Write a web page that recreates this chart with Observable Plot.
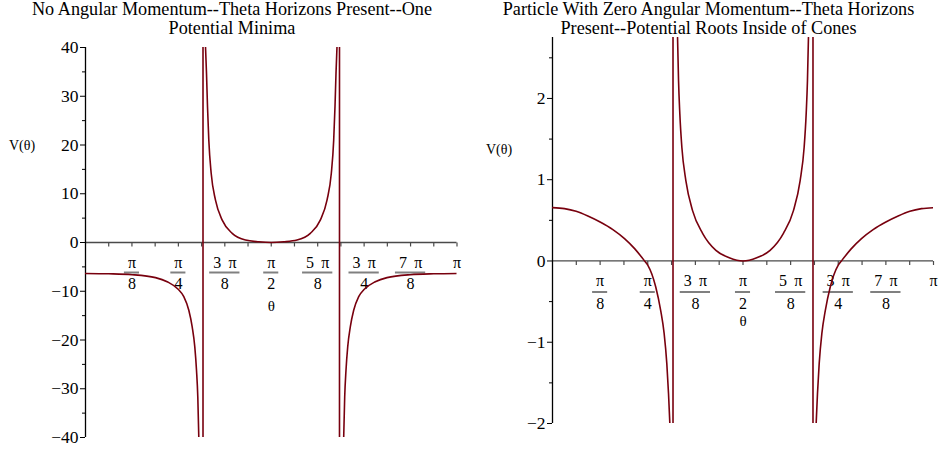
<!DOCTYPE html>
<html>
<head>
<meta charset="utf-8">
<script src="https://cdn.jsdelivr.net/npm/d3@7"></script>
<script src="https://cdn.jsdelivr.net/npm/@observablehq/plot@0.6"></script>
<style>
  body { margin: 0; background: #fff; }
  #wrap { position: relative; width: 940px; height: 450px; font-family: "Liberation Serif", serif; }
  .panel { position: absolute; top: 0; width: 470px; height: 450px; }
  .title { position: absolute; top: 0; text-align: center; font-size: 18.2px; line-height: 18.5px; color: #000; white-space: nowrap; }
  .ylab { position: absolute; font-size: 14px; color: #000; }
  svg { display: block; }
</style>
</head>
<body>
<div id="wrap">
  <div class="panel" id="p1" style="left:0"></div>
  <div class="panel" id="p2" style="left:470px"></div>
</div>
<script>
const PI = Math.PI;

// ---- text ----
const leftTitle = ["No Angular Momentum--Theta Horizons Present--One", "Potential Minima"];
const rightTitle = ["Particle With Zero Angular Momentum--Theta Horizons", "Present--Potential Roots Inside of Cones"];
const yLabel = "V(θ)";
const xLabel = "θ";

// ---- x ticks (in units of π) ----
const minorTicks = [1,2,3,4,5,6,7,8,9,10,11,12,13,14,15,16].map(k => k / 16);
const fracTicks = [1,2,3,4,5,6,7,8].map(k => k / 8);
const fracNumerators = ["π", "π", "3 \u2009π", "π", "5 \u2009π", "3 \u2009π", "7 \u2009π", "π"];
const fracDenominators = ["8", "4", "8", "2", "8", "4", "8", ""];

// ---- left panel (θ in units of π, V) ----
const leftYMajor = [-40, -30, -20, -10, 0, 10, 20, 30, 40];
const leftYMinor = [-35, -25, -15, -5, 5, 15, 25, 35];
const leftAsymptotes = [0.3163, 0.6837];
const leftA_t = [0, 0.0625, 0.1257, 0.1884, 0.2199, 0.2495, 0.2646, 0.2781, 0.2872, 0.2942, 0.2988, 0.3023, 0.3050];
const leftA_v = [-6.35, -6.42, -6.6, -7.2, -8.05, -9.6, -11.1, -13.9, -17.3, -21.4, -26.2, -31.7, -40];
const leftB_t = [0.3230, 0.3257, 0.3284, 0.3319, 0.3383, 0.3499, 0.3680, 0.3949, 0.4307, 0.4665, 0.5,
                 0.5335, 0.5693, 0.6051, 0.6320, 0.6501, 0.6617, 0.6681, 0.6716, 0.6743, 0.6770];
const leftB_v = [40.2, 34.7, 27.9, 21.0, 14.2, 8.7, 4.6, 1.87, 0.5, 0.14, 0,
                 0.14, 0.5, 1.87, 4.6, 8.7, 14.2, 21.0, 27.9, 34.7, 40.2];
const leftC_t = [0.6950, 0.6977, 0.7012, 0.7058, 0.7128, 0.7219, 0.7354, 0.7505, 0.7801, 0.8116, 0.8743, 0.9375, 1];
const leftC_v = [-40, -31.7, -26.2, -21.4, -17.3, -13.9, -11.1, -9.6, -8.05, -7.2, -6.6, -6.42, -6.35];

// ---- right panel ----
const rightYMajor = [-2, -1, 0, 1, 2];
const rightYMinor = [-1.5, -0.5, 0.5, 1.5, 2.5];
const rightAsymptotes = [0.3163, 0.6837];
const rightA_t = [0, 0.0315, 0.062, 0.0928, 0.125, 0.1585, 0.189, 0.2155, 0.2418, 0.25, 0.271, 0.284, 0.293, 0.300, 0.3045, 0.308];
const rightA_v = [0.656, 0.644, 0.611, 0.553, 0.479, 0.386, 0.275, 0.152, 0.0, -0.05, -0.32, -0.61, -0.89, -1.26, -1.63, -2.0];
const rightB_t = [0.3282, 0.3308, 0.3342, 0.3395, 0.35, 0.3676, 0.3939, 0.4289, 0.4639, 0.5,
                  0.5361, 0.5711, 0.6061, 0.6324, 0.65, 0.6605, 0.6658, 0.6692, 0.6718];
const rightB_v = [2.75, 2.22, 1.81, 1.40, 0.99, 0.62, 0.34, 0.13, 0.04, 0,
                  0.04, 0.13, 0.34, 0.62, 0.99, 1.40, 1.81, 2.22, 2.75];
const rightC_t = [0.692, 0.6955, 0.700, 0.707, 0.716, 0.729, 0.75, 0.7582, 0.7845, 0.811, 0.8415, 0.875, 0.9072, 0.938, 0.9685, 1];
const rightC_v = [-2.0, -1.63, -1.26, -0.89, -0.61, -0.32, -0.05, 0.0, 0.152, 0.275, 0.386, 0.479, 0.553, 0.611, 0.644, 0.656];

const curveColor = "#78000E";
const fracFont = "16px 'Liberation Serif'";

function rows(ts, vs, branch) {
  return ts.map((t, i) => ({theta: t * PI, v: vs[i], branch}));
}

// measure label widths so fraction bars fit their numerators
const measureCtx = document.createElement("canvas").getContext("2d");
function textWidth(s) { measureCtx.font = fracFont; return measureCtx.measureText(s).width; }

const vtick = {draw(ctx) { ctx.moveTo(0, 0); ctx.lineTo(0, 4); }};

function panel(el, cfg) {
  const pxPerUnit = (470 - cfg.ml - cfg.mr) / PI;
  const fracRows = fracTicks.map((t, i) => ({x: t * PI, num: fracNumerators[i], den: fracDenominators[i],
    hw: (textWidth(fracNumerators[i]) / 2 + 3.5) / pxPerUnit}));
  const barRows = fracRows.filter(d => d.den);
  const svg = Plot.plot({
    width: 470, height: 450,
    marginLeft: cfg.ml, marginRight: cfg.mr, marginTop: cfg.mt, marginBottom: cfg.mb,
    x: {domain: [0, PI], axis: null},
    y: {domain: cfg.yDomain},
    style: {fontFamily: "Liberation Serif", fontSize: "16px", background: "white", overflow: "visible"},
    marks: [
      Plot.ruleY([0], {stroke: "#4a4a4a", strokeWidth: 1.3}),
      Plot.dot(minorTicks, {x: d => d * PI, y: 0, symbol: vtick, stroke: "#4a4a4a", fill: "none", strokeWidth: 1.2}),
      Plot.ruleX([0], {stroke: "#000", strokeWidth: 1.3}),
      Plot.axisY(cfg.yMajor, {tickSize: 5, tickPadding: 2, fontSize: 17.5, label: null, stroke: "#000", tickFormat: d3.format("~g")}),
      Plot.axisY(cfg.yMinor, {tickSize: 3, text: null, label: null, stroke: "#000"}),
      Plot.text(fracRows, {x: "x", y: 0, text: "num", dy: cfg.numDy, fontSize: 16}),
      Plot.ruleY(barRows, {y: 0, x1: d => d.x - d.hw, x2: d => d.x + d.hw, dy: cfg.barDy, stroke: "#808080", strokeWidth: 2}),
      Plot.text(fracRows, {x: "x", y: 0, text: "den", dy: cfg.denDy, fontSize: 16}),
      Plot.text([xLabel], {x: PI / 2, y: 0, text: d => d, dy: cfg.thetaDy, fontSize: 15}),
      Plot.ruleX(cfg.asym.map(t => t * PI), {stroke: curveColor, strokeWidth: 1.6}),
      Plot.line(cfg.data, {x: "theta", y: "v", z: "branch", stroke: curveColor, strokeWidth: 1.6, curve: "monotone-x", clip: true})
    ]
  });
  el.appendChild(svg);
  const title = document.createElement("div");
  title.className = "title";
  title.style.left = cfg.titleLeft + "px";
  title.style.width = cfg.titleWidth + "px";
  title.style.top = cfg.titleTop + "px";
  title.innerHTML = cfg.title.join("<br>");
  el.appendChild(title);
  const yl = document.createElement("div");
  yl.className = "ylab";
  yl.style.left = cfg.ylx + "px";
  yl.style.top = cfg.yly + "px";
  yl.textContent = yLabel;
  el.appendChild(yl);
}

panel(document.getElementById("p1"), {
  ml: 85, mr: 13.5, mt: 47, mb: 13,
  yDomain: [-40, 40], yMajor: leftYMajor, yMinor: leftYMinor,
  asym: leftAsymptotes,
  data: [...rows(leftA_t, leftA_v, "a"), ...rows(leftB_t, leftB_v, "b"), ...rows(leftC_t, leftC_v, "c")],
  numDy: 20, barDy: 30, denDy: 41, thetaDy: 64,
  title: leftTitle, titleLeft: 0, titleWidth: 464, titleTop: 0,
  ylx: 9, yly: 138
});

panel(document.getElementById("p2"), {
  ml: 82, mr: 7, mt: 37, mb: 27,
  yDomain: [-2, 2.75], yMajor: rightYMajor, yMinor: rightYMinor,
  asym: rightAsymptotes,
  data: [...rows(rightA_t, rightA_v, "a"), ...rows(rightB_t, rightB_v, "b"), ...rows(rightC_t, rightC_v, "c")],
  numDy: 19.5, barDy: 31, denDy: 42.5, thetaDy: 60,
  title: rightTitle, titleLeft: 0, titleWidth: 477, titleTop: 0,
  ylx: 16, yly: 142
});
</script>
</body>
</html>
